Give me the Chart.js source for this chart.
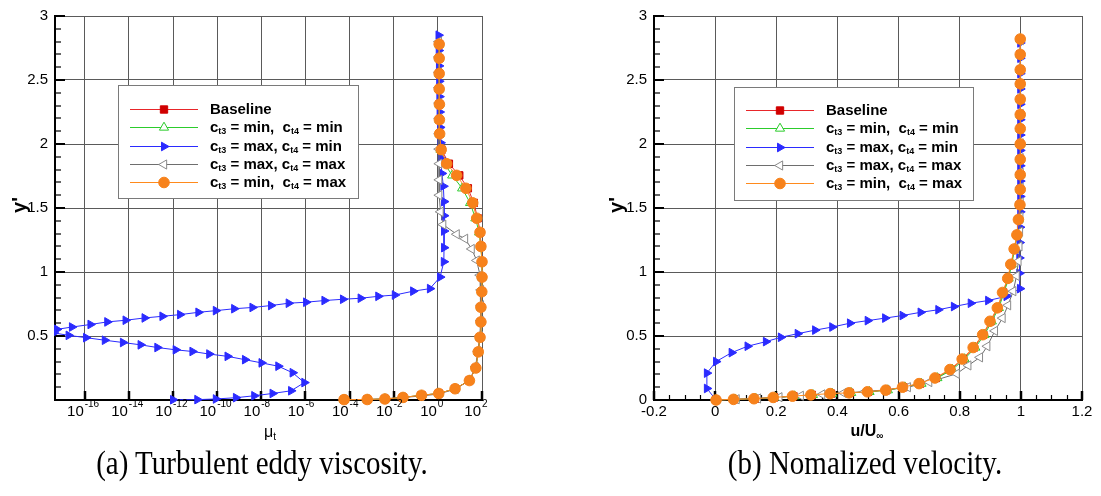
<!DOCTYPE html>
<html>
<head>
<meta charset="utf-8">
<script src="https://cdn.jsdelivr.net/npm/chart.js@4.4.1/dist/chart.umd.min.js"></script>
<style>
  body { margin: 0; background: #fff; }
  #page { position: relative; width: 1101px; height: 496px; overflow: hidden; background: #fff;
          font-family: 'Liberation Sans', Arial, sans-serif; color: #000; }
  canvas { position: absolute; top: 0; }
  .ytitle { position: absolute; font-weight: bold; font-size: 20px; transform: translate(-50%, -50%) rotate(-90deg); white-space: nowrap; }
  .xtitle { position: absolute; font-size: 16px; transform: translateX(-50%); white-space: nowrap; }
  .xtitle sub { font-size: 10px; vertical-align: -3px; }
  .caption { position: absolute; top: 444px; width: 560px; text-align: center; transform: scaleY(1.15); transform-origin: top;
             font-family: 'Liberation Serif', 'Times New Roman', serif; font-size: 29px; white-space: nowrap; }
</style>
</head>
<body>
<div id="page">
  <canvas id="muChart" width="520" height="450" style="left:0"></canvas>
  <canvas id="uChart" width="541" height="450" style="left:560px"></canvas>
  <div class="ytitle" style="left:19px; top:205px">y'</div>
  <div class="ytitle" style="left:616px; top:205px">y'</div>
  <div class="xtitle" style="left:270px; top:423px">μ<sub>t</sub></div>
  <div class="xtitle" style="left:867px; top:422px; font-weight:bold">u/U<sub>∞</sub></div>
  <div class="caption" style="left:-18px">(a) Turbulent eddy viscosity.</div>
  <div class="caption" style="left:585px">(b) Nomalized velocity.</div>
</div>
<script>
// ---- axes ----
const yTicks = [0, 0.5, 1, 1.5, 2, 2.5, 3];
const muTickDecades = [-16, -14, -12, -10, -8, -6, -4, -2, 0, 2];
const uTicks = [-0.2, 0, 0.2, 0.4, 0.6, 0.8, 1, 1.2];

const seriesNames = [
    'Baseline',
    'c_{t3} = min,  c_{t4} = min',
    'c_{t3} = max, c_{t4} = min',
    'c_{t3} = max, c_{t4} = max',
    'c_{t3} = min,  c_{t4} = max'
];

// ---- (a) eddy viscosity: y' at the symbols, mu_t given in decades (log10) ----
const yMu = [0.003, 0.004, 0.008, 0.02, 0.037, 0.051, 0.088, 0.152, 0.25, 0.376, 0.49, 0.61, 0.725, 0.846, 0.96,
    1.08, 1.2, 1.31, 1.42, 1.54, 1.654, 1.755, 1.846, 1.956, 2.08, 2.19, 2.31, 2.43, 2.55, 2.67, 2.78];
const muBase = [-4.25, -3.2, -2.4, -1.58, -0.74, 0.04, 0.78, 1.43, 1.72, 1.83, 1.91, 1.95, 1.95, 1.99, 2.0,
    2.0, 1.96, 1.92, 1.8, 1.63, 1.36, 0.97, 0.5, 0.17, 0.08, 0.07, 0.07, 0.06, 0.06, 0.06, 0.06];
const muMinMin = [-4.25, -3.2, -2.4, -1.58, -0.74, 0.04, 0.78, 1.43, 1.72, 1.83, 1.91, 1.95, 1.95, 1.99, 2.0,
    2.0, 1.94, 1.87, 1.7, 1.46, 1.1, 0.65, 0.3, 0.12, 0.08, 0.07, 0.07, 0.06, 0.06, 0.06, 0.06];
const muMinMax = [-4.25, -3.2, -2.4, -1.58, -0.74, 0.04, 0.78, 1.43, 1.72, 1.83, 1.91, 1.95, 1.95, 1.99, 2.0,
    2.0, 1.95, 1.91, 1.76, 1.58, 1.27, 0.85, 0.4, 0.15, 0.08, 0.07, 0.07, 0.06, 0.06, 0.06, 0.06];

const yMuMaxMin = [2.85, 2.73, 2.61, 2.49, 2.37, 2.25, 2.13, 2.01, 1.89, 1.77, 1.67, 1.55, 1.44, 1.32, 1.19, 1.08,
    0.96, 0.87, 0.85, 0.82, 0.81, 0.795, 0.787, 0.777, 0.764, 0.756, 0.738, 0.723, 0.713, 0.698, 0.685, 0.667,
    0.654, 0.641, 0.623, 0.61, 0.59, 0.57, 0.552, 0.538, 0.524, 0.505, 0.487, 0.467, 0.449, 0.431, 0.41, 0.392,
    0.379, 0.359, 0.341, 0.315, 0.29, 0.264, 0.213, 0.136, 0.072, 0.051, 0.033, 0.018, 0.008, 0.003, 0.002];
const muMaxMin = [0.03, 0.04, 0.05, 0.06, 0.07, 0.08, 0.1, 0.12, 0.14, 0.18, 0.25, 0.28, 0.28, 0.28, 0.28, 0.27,
    0.1, -0.36, -1.12, -1.95, -2.7, -3.5, -4.3, -5.14, -5.97, -6.76, -7.56, -8.4, -9.23, -10.06, -10.85, -11.68,
    -12.48, -13.29, -14.15, -14.98, -15.74, -16.58, -17.26, -17.7, -17.4, -16.73, -15.94, -15.09, -14.27, -13.47,
    -12.71, -11.88, -11.12, -10.36, -9.53, -8.74, -7.99, -7.23, -6.58, -6.05, -6.65, -7.49, -8.32, -9.15, -10.06,
    -10.9, -12.0];

const yMuMaxMax = [2.8, 2.68, 2.56, 2.44, 2.32, 2.2, 2.08, 1.96, 1.846, 1.72, 1.6, 1.47, 1.37, 1.295, 1.26, 1.18,
    1.09, 0.975, 0.86, 0.74, 0.62, 0.5, 0.38, 0.26, 0.155, 0.085, 0.047, 0.031, 0.02, 0.008, 0.004, 0.003];
const muMaxMax = [0.04, 0.04, 0.04, 0.04, 0.05, 0.05, 0.05, 0.05, 0.06, 0.06, 0.06, 0.12, 0.24, 0.85, 1.23, 1.53,
    1.76, 1.91, 1.95, 1.95, 1.93, 1.9, 1.82, 1.7, 1.44, 0.8, 0.03, -0.75, -1.6, -2.4, -3.2, -4.25];

// ---- (b) normalized velocity u/U_inf ----
const yU = [0, 0.005, 0.01, 0.02, 0.03, 0.04, 0.05, 0.056, 0.064, 0.077, 0.1, 0.128, 0.172, 0.238, 0.32, 0.41,
    0.51, 0.615, 0.72, 0.84, 0.95, 1.06, 1.18, 1.29, 1.41, 1.525, 1.645, 1.76, 1.88, 2.0, 2.12, 2.23, 2.35, 2.47,
    2.58, 2.7, 2.82];
const uBase = [0.003, 0.062, 0.13, 0.193, 0.256, 0.316, 0.379, 0.44, 0.5, 0.56, 0.616, 0.67, 0.722, 0.771, 0.811,
    0.846, 0.877, 0.901, 0.925, 0.942, 0.958, 0.968, 0.979, 0.988, 0.993, 0.997, 0.998, 0.998, 0.998, 0.998,
    0.998, 0.998, 0.998, 0.998, 0.998, 0.998, 0.998];
const uMinMin = [0.003, 0.065, 0.133, 0.197, 0.26, 0.32, 0.383, 0.445, 0.505, 0.565, 0.621, 0.675, 0.727, 0.776,
    0.816, 0.851, 0.881, 0.905, 0.928, 0.945, 0.96, 0.97, 0.98, 0.988, 0.993, 0.997, 0.998, 0.998, 0.998, 0.998,
    0.998, 0.998, 0.998, 0.998, 0.998, 0.998, 0.998];
const uMinMax = [0.003, 0.06, 0.127, 0.19, 0.253, 0.313, 0.376, 0.438, 0.498, 0.558, 0.613, 0.667, 0.719, 0.768,
    0.808, 0.844, 0.875, 0.899, 0.923, 0.94, 0.957, 0.967, 0.978, 0.987, 0.992, 0.997, 0.998, 0.998, 0.998, 0.998,
    0.998, 0.998, 0.998, 0.998, 0.998, 0.998, 0.998];

const yUMaxMin = [0, 0.09, 0.21, 0.3, 0.37, 0.42, 0.456, 0.49, 0.518, 0.546, 0.57, 0.6, 0.62, 0.64, 0.66, 0.685,
    0.705, 0.73, 0.756, 0.777, 0.81, 0.87, 0.99, 1.11, 1.23, 1.35, 1.47, 1.59, 1.71, 1.83, 1.95, 2.07, 2.19, 2.31,
    2.43, 2.55, 2.67, 2.79];
const uMaxMin = [0.003, -0.027, -0.027, 0.003, 0.054, 0.106, 0.166, 0.215, 0.27, 0.327, 0.383, 0.441, 0.499, 0.556,
    0.613, 0.672, 0.73, 0.781, 0.836, 0.893, 0.953, 0.997, 0.995, 0.995, 0.996, 0.997, 0.998, 0.998, 0.998, 0.998,
    0.998, 0.998, 0.998, 0.998, 0.998, 0.998, 0.998, 0.998];

const yUMaxMax = [0, 0.006, 0.012, 0.022, 0.033, 0.044, 0.055, 0.065, 0.08, 0.1, 0.14, 0.205, 0.27, 0.333, 0.42,
    0.54, 0.64, 0.74, 0.85, 0.97, 1.085, 1.2, 1.315, 1.43, 1.545, 1.66, 1.775, 1.89, 2.005, 2.12, 2.235, 2.35,
    2.465, 2.58, 2.695, 2.81];
const uMaxMax = [0.003, 0.07, 0.14, 0.21, 0.28, 0.35, 0.42, 0.49, 0.56, 0.63, 0.7, 0.79, 0.828, 0.866, 0.89,
    0.915, 0.94, 0.958, 0.975, 0.986, 0.992, 0.995, 0.997, 0.998, 0.999, 0.999, 0.999, 0.999, 0.999, 0.999,
    0.999, 0.999, 0.999, 0.999, 0.999, 0.999];

// line / symbol look of each case, same order as seriesNames
const styles = [
    { borderColor: '#e8262a', pointBackgroundColor: '#d00000', pointBorderColor: '#d00000', pointStyle: 'rect', pointRadius: 5.2, pointRotation: 0 },
    { borderColor: '#2ccc2c', pointBackgroundColor: '#ffffff', pointBorderColor: '#2ccc2c', pointStyle: 'triangle', pointRadius: 5.3, pointRotation: 0 },
    { borderColor: '#2b2bff', pointBackgroundColor: '#2b2bff', pointBorderColor: '#2b2bff', pointStyle: 'triangle', pointRadius: 5, pointRotation: 90 },
    { borderColor: '#6e6e6e', pointBackgroundColor: '#ffffff', pointBorderColor: '#8a8a8a', pointStyle: 'triangle', pointRadius: 5.3, pointRotation: -90 },
    { borderColor: '#ff8a1c', pointBackgroundColor: '#f7821b', pointBorderColor: '#f7821b', pointStyle: 'circle', pointRadius: 5.3, pointRotation: 0 }
];
const drawOrder = [4, 3, 2, 1, 0];

const FONT = "'Liberation Sans', Arial, sans-serif";
Chart.defaults.color = '#000';
Chart.defaults.font.family = FONT;

function pairs(ys, xs, toX) {
    return ys.map(function (y, i) {
        return { x: toX ? toX(xs[i]) : xs[i], y: y };
    });
}

function decade(d) {
    return Math.pow(10, d);
}

function makeDatasets(curves) {
    return curves.map(function (pts, i) {
        return Object.assign({
            label: seriesNames[i],
            data: pts,
            showLine: true,
            borderWidth: 1,
            pointBorderWidth: 1,
            pointHoverRadius: 5,
            order: drawOrder[i],
            clip: { left: 1, top: 6, right: 6, bottom: 6 }
        }, styles[i]);
    });
}

function marker(ctx, st, x, y) {
    var r = st.pointRadius;
    ctx.beginPath();
    if (st.pointStyle === 'circle') {
        ctx.arc(x, y, r, 0, Math.PI * 2);
    } else if (st.pointStyle === 'rect') {
        var s = r * Math.SQRT1_2;
        ctx.rect(x - s, y - s, 2 * s, 2 * s);
    } else {
        var a = st.pointRotation * Math.PI / 180;
        for (var k = 0; k < 3; k++) {
            var px = x + Math.sin(a) * r, py = y - Math.cos(a) * r;
            if (k) ctx.lineTo(px, py); else ctx.moveTo(px, py);
            a += 2 * Math.PI / 3;
        }
        ctx.closePath();
    }
    ctx.fillStyle = st.pointBackgroundColor;
    ctx.fill();
    ctx.lineWidth = 1;
    ctx.strokeStyle = st.pointBorderColor;
    ctx.stroke();
}

// label text with c_{t3} style subscripts
function richText(ctx, text, x, y) {
    var parts = text.split(/_\{([^}]*)\}/);
    parts.forEach(function (p, i) {
        if (!p) return;
        var sub = i % 2 === 1;
        ctx.font = sub ? 'bold 9px ' + FONT : 'bold 15px ' + FONT;
        ctx.fillText(p, x, sub ? y + 4 : y);
        x += ctx.measureText(p).width;
    });
}

// legend box drawn inside the plot, like the original
const boxLegend = {
    id: 'boxLegend',
    afterDraw(chart, args, o) {
        var ctx = chart.ctx;
        ctx.save();
        ctx.fillStyle = '#fff';
        ctx.fillRect(o.x, o.y, o.w, o.h);
        ctx.strokeStyle = '#7a7a7a';
        ctx.lineWidth = 1;
        ctx.strokeRect(o.x + 0.5, o.y + 0.5, o.w, o.h);
        ctx.textBaseline = 'middle';
        ctx.textAlign = 'left';
        seriesNames.forEach(function (name, i) {
            var cy = Math.round(o.y + o.first + i * o.gap) + 0.5;
            var st = styles[i];
            ctx.strokeStyle = st.borderColor;
            ctx.lineWidth = 1;
            ctx.beginPath();
            ctx.moveTo(o.x + 12, cy);
            ctx.lineTo(o.x + 80, cy);
            ctx.stroke();
            marker(ctx, st, o.x + 46, cy);
            ctx.fillStyle = '#000';
            richText(ctx, name, o.x + 92, cy);
        });
        ctx.restore();
    }
};

// tick marks point into the plot; y minor every 0.1
const innerTicks = {
    id: 'innerTicks',
    beforeDatasetsDraw(chart, args, o) {
        var ctx = chart.ctx, a = chart.chartArea;
        var xs = chart.scales.x, ys = chart.scales.y;
        function seg(x1, y1, x2, y2, w) {
            ctx.lineWidth = w;
            ctx.beginPath();
            ctx.moveTo(x1, y1);
            ctx.lineTo(x2, y2);
            ctx.stroke();
        }
        ctx.save();
        ctx.strokeStyle = '#000';
        for (var k = 0; k <= 30; k++) {
            var py = Math.round(ys.getPixelForValue(k / 10));
            var major = k % 5 === 0;
            seg(a.left, py, a.left + (major ? 10 : 6), py, major ? 2 : 1.2);
        }
        (o.xMajor || []).forEach(function (v) {
            var px = Math.round(xs.getPixelForValue(v));
            seg(px, a.bottom, px, a.bottom - 9, 2.5);
        });
        (o.xMinor || []).forEach(function (v) {
            var px = Math.round(xs.getPixelForValue(v)) + 0.5;
            seg(px, a.bottom, px, a.bottom - 5, 1.2);
        });
        ctx.restore();
    },
    afterDraw(chart, args, o) {
        if (!o.decades) return;
        var ctx = chart.ctx, a = chart.chartArea;
        ctx.save();
        ctx.fillStyle = '#000';
        ctx.textBaseline = 'alphabetic';
        o.decades.forEach(function (d) {
            var px = chart.scales.x.getPixelForValue(decade(d));
            ctx.font = '15px ' + FONT;
            ctx.textAlign = 'right';
            ctx.fillText('10', px - 1, a.bottom + 16);
            ctx.font = '10px ' + FONT;
            ctx.textAlign = 'left';
            ctx.fillText(String(d), px, a.bottom + 7);
        });
        ctx.restore();
    }
};

function yAxis(width, showZero) {
    return {
        min: 0,
        max: 3,
        grid: { color: '#5a5a5a', lineWidth: 1, drawTicks: false },
        border: { color: '#000', width: 2 },
        ticks: {
            padding: 7,
            font: { size: 15 },
            callback: function (v) { return (v === 0 && !showZero) ? '' : String(v); }
        },
        afterBuildTicks: function (s) { s.ticks = yTicks.map(function (v) { return { value: v }; }); },
        afterFit: function (s) { s.width = width; }
    };
}

// (a) mu_t
const muCurves = [
    pairs(yMu, muBase, decade),
    pairs(yMu, muMinMin, decade),
    pairs(yMuMaxMin, muMaxMin, decade),
    pairs(yMuMaxMax, muMaxMax, decade),
    pairs(yMu, muMinMax, decade)
];

new Chart(document.getElementById('muChart'), {
    type: 'scatter',
    data: { datasets: makeDatasets(muCurves) },
    options: {
        responsive: false,
        animation: false,
        layout: { padding: { left: 0, right: 38, top: 10, bottom: 0 }, autoPadding: false },
        plugins: {
            legend: { display: false },
            tooltip: { enabled: false },
            boxLegend: { x: 118, y: 85, w: 240, h: 113, first: 24, gap: 18.3 },
            innerTicks: { xMajor: muTickDecades.map(decade), decades: muTickDecades }
        },
        scales: {
            x: {
                type: 'logarithmic',
                min: 4.5e-18,
                max: 100,
                grid: { color: '#5a5a5a', lineWidth: 1, drawTicks: false },
                border: { color: '#000', width: 2 },
                ticks: { display: false },
                afterBuildTicks: function (s) { s.ticks = muTickDecades.map(function (d) { return { value: decade(d) }; }); },
                afterFit: function (s) { s.height = 50; }
            },
            y: yAxis(55, false)
        }
    },
    plugins: [innerTicks, boxLegend]
});

// (b) u/U_inf
const uCurves = [
    pairs(yU, uBase),
    pairs(yU, uMinMin),
    pairs(yUMaxMin, uMaxMin),
    pairs(yUMaxMax, uMaxMax),
    pairs(yU, uMinMax)
];

const uMinor = [];
for (var k = -4; k <= 24; k++) {
    if (k % 4 !== 0) uMinor.push(k * 0.05);
}

new Chart(document.getElementById('uChart'), {
    type: 'scatter',
    data: { datasets: makeDatasets(uCurves) },
    options: {
        responsive: false,
        animation: false,
        layout: { padding: { left: 0, right: 19, top: 10, bottom: 0 }, autoPadding: false },
        plugins: {
            legend: { display: false },
            tooltip: { enabled: false },
            boxLegend: { x: 174, y: 87, w: 239, h: 113, first: 23, gap: 18.3 },
            innerTicks: { xMajor: uTicks, xMinor: uMinor }
        },
        scales: {
            x: {
                min: -0.2,
                max: 1.2,
                grid: { color: '#5a5a5a', lineWidth: 1, drawTicks: false },
                border: { color: '#000', width: 2 },
                ticks: { padding: 3, font: { size: 15 }, callback: function (v) { return String(Math.round(v * 10) / 10); } },
                afterBuildTicks: function (s) { s.ticks = uTicks.map(function (v) { return { value: v }; }); },
                afterFit: function (s) { s.height = 50; }
            },
            y: yAxis(94, true)
        }
    },
    plugins: [innerTicks, boxLegend]
});
</script>
</body>
</html>
